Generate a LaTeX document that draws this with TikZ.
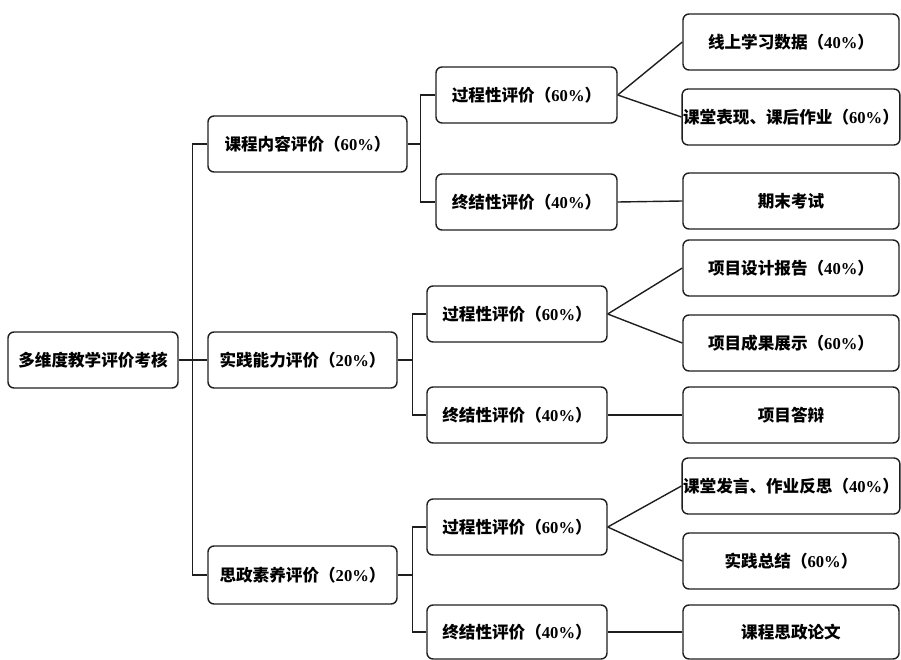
\documentclass[tikz,border=0pt]{standalone}
\usepackage{fontspec}
\setmainfont{Liberation Serif}
\newfontfamily\cjk{Noto Sans CJK SC}
\usetikzlibrary{calc}
\definecolor{ink}{HTML}{1E1E1E}
\newcommand{\pct}[1]{{\rmfamily\bfseries #1\%}}

\begin{document}
\begin{tikzpicture}[x=1pt,y=-1pt,
    box/.style={draw=ink,line width=1.4pt,rounded corners=6pt,
      minimum height=56pt,inner sep=1pt,
      font={\cjk\bfseries\fontsize{16.6}{18}\selectfont}},
    link/.style={ink,line width=1.4pt}]
  \useasboundingbox (0,0) rectangle (901,660);

  % root and first level
  \node[box,minimum width=170pt] (root) at (93,360) {多维度教学评价考核};
  \node[box,minimum width=199pt] (A) at (307.5,144) {课程内容评价（\pct{60}）};
  \node[box,minimum width=189pt] (B) at (302.5,360) {实践能力评价（\pct{20}）};
  \node[box,minimum width=189pt,minimum height=58pt] (C) at (302.5,575) {思政素养评价（\pct{20}）};

  % second level
  \node[box,minimum width=181pt] (A1) at (526.5,95) {过程性评价（\pct{60}）};
  \node[box,minimum width=181pt] (A2) at (526.5,202) {终结性评价（\pct{40}）};
  \node[box,minimum width=180pt] (B1) at (517,314) {过程性评价（\pct{60}）};
  \node[box,minimum width=180pt] (B2) at (517,415) {终结性评价（\pct{40}）};
  \node[box,minimum width=180pt] (C1) at (517,527) {过程性评价（\pct{60}）};
  \node[box,minimum width=180pt,minimum height=54pt] (C2) at (517,632) {终结性评价（\pct{40}）};

  % leaves
  \node[box,minimum width=216pt] (A1a) at (791,42) {线上学习数据（\pct{40}）};
  \node[box,minimum width=216pt] (A1b) at (791,117) {课堂表现、课后作业（\pct{60}）};
  \node[box,minimum width=216pt] (A2a) at (791,201) {期末考试};
  \node[box,minimum width=216pt] (B1a) at (791,268) {项目设计报告（\pct{40}）};
  \node[box,minimum width=216pt] (B1b) at (791,343) {项目成果展示（\pct{60}）};
  \node[box,minimum width=216pt] (B2a) at (791,415) {项目答辩};
  \node[box,minimum width=216pt] (C1a) at (791,486) {课堂发言、作业反思（\pct{40}）};
  \node[box,minimum width=216pt] (C1b) at (791,561) {实践总结（\pct{60}）};
  \node[box,minimum width=216pt,minimum height=54pt] (C2a) at (791,632) {课程思政论文};

  % junctions
  \coordinate (j0) at ($(root.east)+(14,0)$);
  \coordinate (jA) at ($(A.east)+(13,0)$);
  \coordinate (jB) at ($(B.east)+(15,0)$);
  \coordinate (jC) at ($(C.east)+(15,0)$);

  % tree connectors
  \draw[link] (root.east) -- (B.west);
  \draw[link] (A.west) -| (j0) |- (C.west);
  \draw[link] (A.east) -- (jA);
  \draw[link] (A1.west) -| (jA) |- (A2.west);
  \draw[link] (B.east) -- (jB);
  \draw[link] (B1.west) -| (jB) |- (B2.west);
  \draw[link] (C.east) -- (jC);
  \draw[link] (C1.west) -| (jC) |- (C2.west);

  % to the leaves
  \draw[link] (A1.east) -- (A1a.west);
  \draw[link] (A1.east) -- (A1b.west);
  \draw[link] (A2.east) -- (A2a.west);
  \draw[link] (B1.east) -- (B1a.west);
  \draw[link] (B1.east) -- (B1b.west);
  \draw[link] (B2.east) -- (B2a.west);
  \draw[link] (C1.east) -- (C1a.west);
  \draw[link] (C1.east) -- (C1b.west);
  \draw[link] (C2.east) -- (C2a.west);
\end{tikzpicture}
\end{document}
